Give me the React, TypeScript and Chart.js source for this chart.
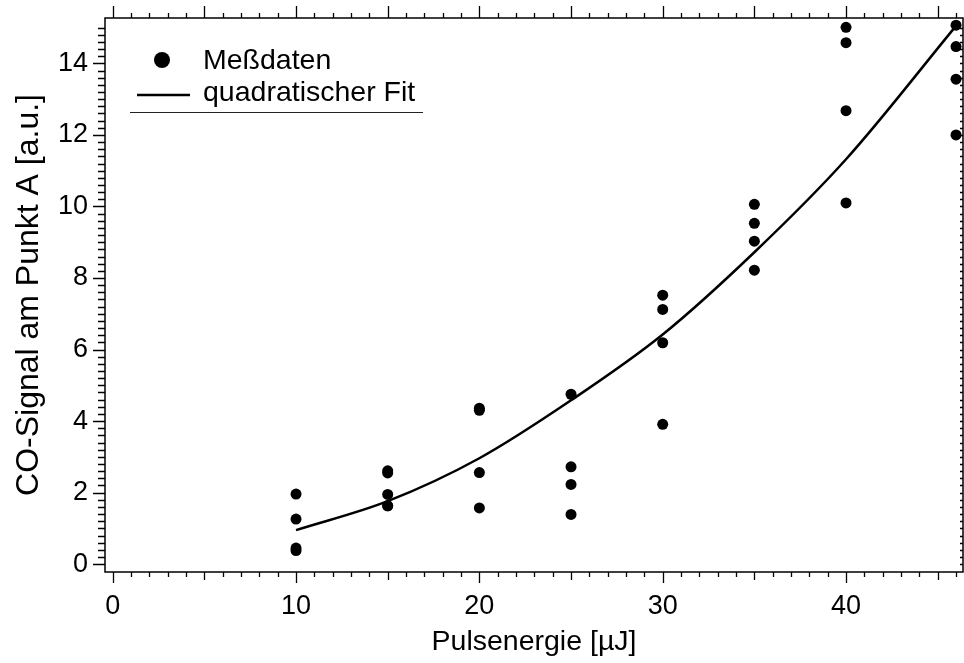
import React, { useEffect, useRef } from "react";
import { Chart, registerables } from "chart.js";

Chart.register(...registerables);

// ---- data ----
const energies = [
  10, 10, 10, 10,
  15, 15, 15, 15, 15,
  20, 20, 20, 20,
  25, 25, 25, 25,
  30, 30, 30, 30,
  35, 35, 35, 35,
  40, 40, 40, 40,
  46, 46, 46, 46,
];
const signals = [
  1.96, 1.26, 0.45, 0.38,
  2.61, 2.55, 1.95, 1.63, 1.63,
  4.36, 4.30, 2.56, 1.57,
  4.75, 2.72, 2.23, 1.39,
  7.52, 7.12, 6.19, 3.91,
  10.06, 9.53, 9.03, 8.22,
  15.01, 14.58, 12.68, 10.1,
  15.07, 14.47, 13.56, 12.0,
];
const fitEnergies = [10, 15, 20, 25, 30, 35, 40, 46];
const fitSignals = [0.95, 1.76, 2.96, 4.58, 6.42, 8.72, 11.32, 15.05];

const xTickLabels = [0, 10, 20, 30, 40];
const yTickLabels = [0, 2, 4, 6, 8, 10, 12, 14];

const X_MIN = -0.42;
const X_MAX = 46.38;
const Y_MIN = -0.22;
const Y_MAX = 15.27;

const seriesNames = ["Meßdaten", "quadratischer Fit"];
const xTitle = "Pulsenergie [µJ]";
const yTitle = "CO-Signal am Punkt A [a.u.]";

const FONT_FAMILY = "'Liberation Sans', Arial, sans-serif";
const TICK_SIZE = 27;
const TEXT_SIZE = 28.5;
const YTITLE_SIZE = 32;

const framePlugin = {
  id: "frameTicks",
  afterDraw(chart: any) {
    const ctx = chart.ctx;
    const { left, right, top, bottom } = chart.chartArea;
    const xs = chart.scales.x;
    const ys = chart.scales.y;
    ctx.save();
    ctx.strokeStyle = "#000";
    ctx.lineWidth = 1.5;
    ctx.beginPath();
    ctx.rect(left, top, right - left, bottom - top);
    ctx.stroke();

    ctx.lineWidth = 1.3;
    ctx.beginPath();
    // x ticks every 1 unit
    for (let v = 0; v <= 46; v++) {
      const px = Math.round(xs.getPixelForValue(v)) + 0.5;
      const major = v % 10 === 0;
      const mid = v % 5 === 0;
      const lb = major ? 11 : mid ? 8 : 5;
      ctx.moveTo(px, bottom);
      ctx.lineTo(px, bottom + lb);
      const lt = mid ? 12 : 5;
      ctx.moveTo(px, top);
      ctx.lineTo(px, top - lt);
    }
    // y ticks every 0.2 unit
    for (let i = 0; i <= 75; i++) {
      const v = i / 5;
      const py = Math.round(ys.getPixelForValue(v)) + 0.5;
      const major = i % 10 === 0;
      const l = major ? 12 : 7;
      ctx.moveTo(left, py);
      ctx.lineTo(left - l, py);
      ctx.moveTo(right, py);
      ctx.lineTo(right - 3, py);
    }
    ctx.stroke();

    // legend
    const lx = left;
    const ly = top;
    ctx.fillStyle = "#000";
    ctx.beginPath();
    ctx.arc(lx + 57, ly + 42, 8, 0, Math.PI * 2);
    ctx.fill();
    ctx.lineWidth = 2.5;
    ctx.beginPath();
    ctx.moveTo(lx + 32, ly + 77);
    ctx.lineTo(lx + 85, ly + 77);
    ctx.stroke();
    ctx.font = `${TEXT_SIZE}px ${FONT_FAMILY}`;
    ctx.textBaseline = "alphabetic";
    ctx.textAlign = "left";
    ctx.fillText(seriesNames[0], lx + 98, ly + 51);
    ctx.fillText(seriesNames[1], lx + 98, ly + 83);
    ctx.strokeStyle = "#222";
    ctx.lineWidth = 1.2;
    ctx.beginPath();
    ctx.moveTo(lx + 25, ly + 94.5);
    ctx.lineTo(lx + 318, ly + 94.5);
    ctx.stroke();
    ctx.restore();
  },
};

export default function App() {
  const ref = useRef<HTMLCanvasElement | null>(null);
  useEffect(() => {
    if (!ref.current) return;
    const tickFont = { family: FONT_FAMILY, size: TICK_SIZE };
    const points = energies.map((x, i) => ({ x, y: signals[i] }));
    const fit = fitEnergies.map((x, i) => ({ x, y: fitSignals[i] }));
    const chart = new Chart(ref.current, {
      type: "scatter",
      data: {
        datasets: [
          {
            label: seriesNames[0],
            data: points,
            pointRadius: 5.5,
            pointBackgroundColor: "#000",
            pointBorderColor: "#000",
            pointBorderWidth: 0,
            showLine: false,
          } as any,
          {
            label: seriesNames[1],
            data: fit,
            showLine: true,
            pointRadius: 0,
            borderColor: "#000",
            borderWidth: 2.5,
            cubicInterpolationMode: "monotone",
            fill: false,
          } as any,
        ],
      },
      options: {
        animation: false,
        responsive: false,
        maintainAspectRatio: false,
        layout: { autoPadding: false, padding: { top: 18, right: 1, left: 0, bottom: 0 } },
        plugins: { legend: { display: false }, tooltip: { enabled: false } },
        scales: {
          x: {
            type: "linear",
            min: X_MIN,
            max: X_MAX,
            afterBuildTicks: (s: any) => {
              s.ticks = xTickLabels.map((v) => ({ value: v }));
            },
            afterFit: (s: any) => {
              s.height = 91;
              s.paddingLeft = 0;
              s.paddingRight = 0;
            },
            grid: { display: false, drawTicks: false },
            border: { display: false },
            ticks: {
              padding: 18,
              font: tickFont,
              color: "#000",
              maxRotation: 0,
              autoSkip: false,
              callback: (v: any) => String(v),
            },
            title: {
              display: true,
              text: xTitle,
              font: { family: FONT_FAMILY, size: TEXT_SIZE },
              color: "#000",
              padding: { top: 0, bottom: 4 },
            },
          },
          y: {
            type: "linear",
            min: Y_MIN,
            max: Y_MAX,
            afterBuildTicks: (s: any) => {
              s.ticks = yTickLabels.map((v) => ({ value: v }));
            },
            afterFit: (s: any) => {
              s.width = 105;
              s.paddingTop = 0;
              s.paddingBottom = 0;
            },
            grid: { display: false, drawTicks: false },
            border: { display: false },
            ticks: {
              padding: 17,
              font: tickFont,
              color: "#000",
              autoSkip: false,
              callback: (v: any) => String(v),
            },
            title: {
              display: true,
              text: yTitle,
              font: { family: FONT_FAMILY, size: YTITLE_SIZE },
              color: "#000",
              padding: { top: 10, bottom: 0 },
            },
          },
        },
      },
      plugins: [framePlugin],
    });
    return () => chart.destroy();
  }, []);
  return (
    <div style={{ position: "fixed", left: 0, top: 0, width: 964, height: 663, background: "#fff" }}>
      <canvas ref={ref} width={964} height={663} style={{ display: "block" }} />
    </div>
  );
}
